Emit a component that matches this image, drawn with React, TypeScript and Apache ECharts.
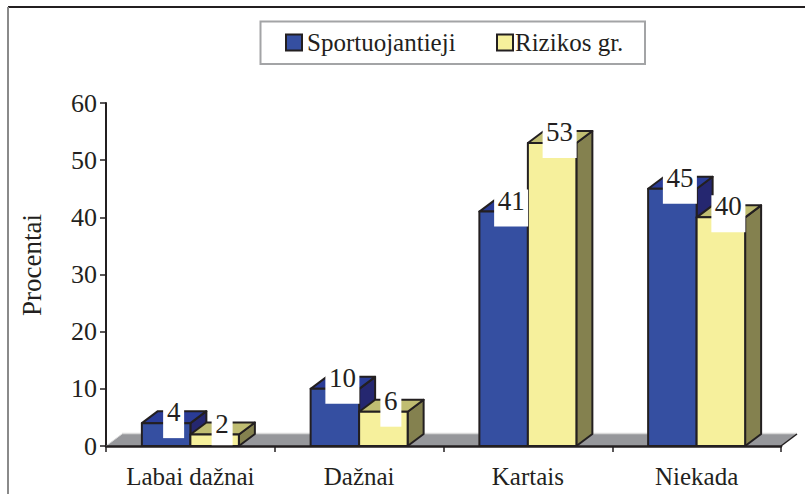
import React, { useEffect, useRef } from "react";
import * as echarts from "echarts";

const categories = ["Labai dažnai", "Dažnai", "Kartais", "Niekada"];
const sportuojantieji = [4, 10, 41, 45];
const rizikos = [2, 6, 53, 40];
const names = ["Sportuojantieji", "Rizikos gr."];
const yTicks = { min: 0, max: 60, interval: 10 };

const SERIF = '"Liberation Serif", "Times New Roman", serif';
const INK = "#231f20";
const DX = 16;
const DY = -12;
const BAR_FRACTION = 0.2874;

const BLUE = { front: "#354fa1", top: "#2a3c97", side: "#252770" };
const YELLOW = { front: "#f6f09c", top: "#c0bd72", side: "#84814f" };

const barRender = (dir: number, c: typeof BLUE) => (_p: any, api: any) => {
  const i = api.value(0);
  const v = api.value(1);
  const w = api.size([1, 0])[0] * BAR_FRACTION;
  const [cx, top] = api.coord([i, v]);
  const [, base] = api.coord([i, 0]);
  const x0 = dir < 0 ? cx - w : cx;
  const x1 = x0 + w;
  const st = (fill: string) => ({ fill, stroke: INK, lineWidth: 2, lineJoin: "round" });
  return {
    type: "group",
    children: [
      { type: "polygon", shape: { points: [[x1, base], [x1 + DX, base + DY], [x1 + DX, top + DY], [x1, top]] }, style: st(c.side) },
      { type: "polygon", shape: { points: [[x0, top], [x0 + DX, top + DY], [x1 + DX, top + DY], [x1, top]] }, style: st(c.top) },
      { type: "polygon", shape: { points: [[x0, base], [x0, top], [x1, top], [x1, base]] }, style: st(c.front) },
    ],
  };
};

const labelRender = (dir: number) => (_p: any, api: any) => {
  const i = api.value(0);
  const v = api.value(1);
  const w = api.size([1, 0])[0] * BAR_FRACTION;
  const [cx, top] = api.coord([i, v]);
  const mid = cx + (dir * w) / 2 + 7.5;
  const txt = String(v);
  const bw = txt.length === 1 ? 21 : 34;
  return {
    type: "group",
    children: [
      { type: "rect", shape: { x: mid - bw / 2, y: top - 22, width: bw, height: 37 }, style: { fill: "#fff" } },
      {
        type: "text",
        style: { text: txt, x: mid, y: top - 11, align: "center", verticalAlign: "middle", fill: INK, font: `27px ${SERIF}` },
      },
    ],
  };
};

const floorRender = (p: any) => {
  const { x, y, width, height } = p.coordSys;
  const b = y + height;
  return {
    type: "group",
    children: [
      {
        type: "polygon",
        shape: { points: [[x, b], [x + DX, b + DY], [x + width + DX, b + DY], [x + width, b]] },
        style: { fill: "#96979b" },
      },
      { type: "line", shape: { x1: x, y1: b, x2: x + DX, y2: b + DY }, style: { stroke: "#d9d9d9", lineWidth: 1 } },
      { type: "line", shape: { x1: x + DX, y1: b + DY - 0.5, x2: x + width + DX, y2: b + DY - 0.5 }, style: { stroke: "#d9d9d9", lineWidth: 1.5 } },
      { type: "line", shape: { x1: x + width, y1: b, x2: x + width + DX, y2: b + DY }, style: { stroke: INK, lineWidth: 1.5 } },
    ],
  };
};

const toData = (vals: number[]) => vals.map((v, i) => [i, v]);

export default function App() {
  const ref = useRef<HTMLDivElement>(null);
  useEffect(() => {
    const chart = echarts.init(ref.current!, undefined, { renderer: "svg" });
    const legendBase = {
      orient: "horizontal",
      top: 30,
      padding: 0,
      itemWidth: 16,
      itemHeight: 16,
      itemGap: 0,
      icon: "rect",
      selectedMode: false,
      itemStyle: { borderColor: INK, borderWidth: 2 },
      textStyle: { fontFamily: SERIF, fontSize: 25, color: INK, padding: [0, 0, 0, 0] },
    };
    chart.setOption({
      animation: false,
      backgroundColor: "#fff",
      graphic: [
        { type: "line", shape: { x1: 8, y1: 7, x2: 805, y2: 7 }, style: { stroke: INK, lineWidth: 2 } },
        { type: "line", shape: { x1: 8, y1: 7, x2: 8, y2: 494 }, style: { stroke: "#8a8a8a", lineWidth: 2 } },
        { type: "rect", shape: { x: 260.5, y: 21.5, width: 384.5, height: 42.5 }, style: { fill: "#fff", stroke: "#a3a4a6", lineWidth: 2 }, z: -1 },
      ],
      legend: [
        { ...legendBase, left: 285, data: [names[0]] },
        { ...legendBase, left: 496, data: [names[1]], textStyle: { ...legendBase.textStyle, padding: [0, 0, 0, -3] } },
      ],
      grid: { left: 106, right: 24, top: 103, bottom: 48 },
      xAxis: {
        type: "category",
        data: categories,
        z: 10,
        boundaryGap: true,
        axisLine: { lineStyle: { color: INK, width: 2.5 } },
        axisTick: { show: true, length: 6, alignWithLabel: false, lineStyle: { color: INK, width: 1.5 } },
        axisLabel: { fontFamily: SERIF, fontSize: 25, color: INK, margin: 18, interval: 0 },
      },
      yAxis: {
        type: "value",
        ...yTicks,
        name: "Procentai",
        nameLocation: "middle",
        nameGap: 61,
        nameTextStyle: { fontFamily: SERIF, fontSize: 27, color: INK, padding: [0, 0, 0, 19] },
        splitLine: { show: false },
        axisLine: { show: true, lineStyle: { color: INK, width: 2 } },
        axisTick: { show: true, length: 6, lineStyle: { color: INK, width: 1.5 } },
        axisLabel: { fontFamily: SERIF, fontSize: 26, color: INK, margin: 9 },
      },
      series: [
        { type: "custom", name: "floor", renderItem: floorRender, data: [[0, 0]], silent: true, z: 1 },
        { type: "custom", name: names[0], renderItem: barRender(-1, BLUE), data: toData(sportuojantieji), encode: { x: 0, y: 1 }, itemStyle: { color: BLUE.front }, z: 2 },
        { type: "custom", name: names[1], renderItem: barRender(1, YELLOW), data: toData(rizikos), encode: { x: 0, y: 1 }, itemStyle: { color: YELLOW.front }, z: 3 },
        { type: "custom", name: "labelsA", renderItem: labelRender(-1), data: toData(sportuojantieji), encode: { x: 0, y: 1 }, z: 4 },
        { type: "custom", name: "labelsB", renderItem: labelRender(1), data: toData(rizikos), encode: { x: 0, y: 1 }, z: 4 },
      ],
    });
    return () => chart.dispose();
  }, []);
  return <div ref={ref} style={{ position: "absolute", left: 0, top: 0, width: 805, height: 494 }} />;
}
